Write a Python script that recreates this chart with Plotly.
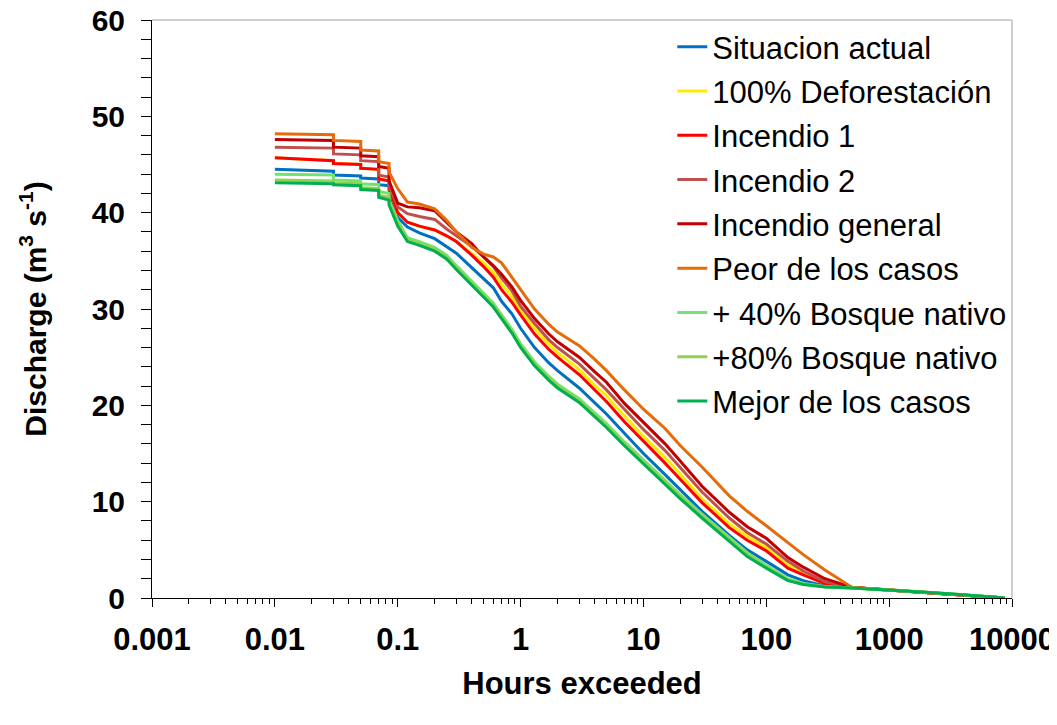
import plotly.graph_objects as go

# hours exceeded (duplicated values give the stair steps at the top of the curves)
hours = [0.01, 0.03, 0.03, 0.05, 0.05, 0.07, 0.07, 0.085, 0.085, 0.1,
         0.12, 0.15, 0.2, 0.25, 0.3, 0.4, 0.5, 0.6, 0.7, 0.85,
         1, 1.3, 1.7, 2, 3, 4, 5, 7, 10, 15,
         20, 30, 50, 70, 100, 150, 200, 300, 500, 1000,
         2000, 4000, 8760]

situacion_actual = [44.5, 44.3, 43.9, 43.8, 43.6, 43.5, 42.9, 42.8, 42.3, 39.5,
                    38.5, 37.9, 37.3, 36.5, 35.8, 34.3, 33.2, 32.2, 30.8, 29.5,
                    28.0, 26.0, 24.4, 23.6, 21.8, 20.3, 19.1, 17.1, 15.0, 12.8,
                    11.2, 9.0, 6.5, 5.0, 3.8, 2.4, 1.8, 1.25, 1.1, 0.85,
                    0.6, 0.35, 0.0]

deforestacion_100 = [45.7, 45.4, 45.1, 45.0, 44.6, 44.5, 43.5, 43.3, 42.6, 40.0,
                     39.0, 38.6, 38.2, 37.6, 37.0, 35.8, 34.8, 33.8, 32.6, 31.3,
                     29.9, 28.0, 26.3, 25.5, 23.7, 22.1, 21.0, 18.9, 16.8, 14.6,
                     12.8, 10.3, 7.7, 6.4, 5.2, 3.4, 2.6, 1.6, 1.1, 0.85,
                     0.6, 0.35, 0.0]

incendio_1 = [45.7, 45.4, 45.1, 45.0, 44.6, 44.5, 43.5, 43.3, 42.6, 40.0,
              39.0, 38.6, 38.2, 37.6, 37.0, 35.6, 34.4, 33.3, 32.0, 30.7,
              29.4, 27.4, 25.8, 25.0, 23.2, 21.6, 20.4, 18.3, 16.3, 14.0,
              12.3, 9.9, 7.3, 6.0, 4.9, 3.1, 2.4, 1.5, 1.1, 0.85,
              0.6, 0.35, 0.0]

incendio_2 = [46.8, 46.7, 46.1, 46.0, 45.4, 45.3, 43.9, 43.7, 42.8, 40.6,
              39.9, 39.6, 39.3, 38.3, 37.6, 36.5, 35.4, 34.4, 33.2, 31.9,
              30.3, 28.5, 26.8, 26.0, 24.3, 22.8, 21.6, 19.6, 17.5, 15.3,
              13.5, 11.0, 8.3, 6.8, 5.6, 3.8, 2.8, 1.7, 1.1, 0.85,
              0.6, 0.35, 0.0]

incendio_general = [47.6, 47.5, 46.8, 46.7, 45.9, 45.8, 44.8, 44.6, 43.3, 41.0,
                    40.6, 40.5, 40.2, 39.0, 38.0, 36.8, 35.4, 34.5, 33.6, 32.3,
                    30.9, 29.0, 27.4, 26.6, 25.0, 23.5, 22.4, 20.2, 18.2, 16.0,
                    14.2, 11.6, 8.9, 7.4, 6.2, 4.2, 3.2, 2.0, 1.1, 0.85,
                    0.6, 0.35, 0.0]

peor_casos = [48.2, 48.1, 47.5, 47.4, 46.5, 46.4, 45.3, 45.1, 44.2, 42.5,
              41.1, 40.9, 40.4, 39.2, 38.0, 36.4, 35.7, 35.4, 34.8, 33.3,
              32.0, 30.0, 28.4, 27.6, 26.2, 24.8, 23.6, 21.6, 19.6, 17.6,
              15.8, 13.6, 10.6, 9.0, 7.5, 5.7, 4.5, 2.9, 1.1, 0.85,
              0.6, 0.35, 0.0]

bosque_40 = [44.0, 43.9, 43.4, 43.3, 43.0, 42.9, 42.2, 42.0, 41.3, 39.2,
             37.4, 37.0, 36.4, 35.6, 34.5, 32.9, 31.7, 30.6, 29.4, 27.9,
             26.4, 24.5, 23.0, 22.2, 20.7, 19.2, 18.1, 16.2, 14.3, 12.2,
             10.7, 8.7, 6.3, 4.7, 3.4, 2.0, 1.5, 1.2, 1.05, 0.85,
             0.6, 0.35, 0.0]

bosque_80 = [43.4, 43.3, 43.1, 43.0, 42.6, 42.5, 41.8, 41.6, 41.0, 38.9,
             37.2, 36.8, 36.2, 35.4, 34.3, 32.7, 31.5, 30.4, 29.2, 27.7,
             26.2, 24.3, 22.8, 22.0, 20.5, 19.0, 17.9, 16.0, 14.1, 12.0,
             10.5, 8.5, 6.1, 4.5, 3.2, 1.9, 1.45, 1.15, 1.05, 0.85,
             0.6, 0.35, 0.0]

mejor_casos = [43.1, 43.0, 42.9, 42.8, 42.4, 42.3, 41.6, 41.3, 40.8, 38.6,
               37.0, 36.6, 36.0, 35.2, 34.1, 32.5, 31.3, 30.2, 29.0, 27.5,
               26.0, 24.1, 22.6, 21.8, 20.3, 18.8, 17.7, 15.8, 13.9, 11.8,
               10.3, 8.3, 5.9, 4.3, 3.1, 1.8, 1.4, 1.15, 1.05, 0.85,
               0.6, 0.35, 0.0]

series = [
    ("Situacion actual", situacion_actual, "#0070C0"),
    ("100% Deforestación", deforestacion_100, "#FFEB00"),
    ("Incendio 1", incendio_1, "#FF0000"),
    ("Incendio 2", incendio_2, "#C0504D"),
    ("Incendio general", incendio_general, "#C00000"),
    ("Peor de los casos", peor_casos, "#E46C0A"),
    ("+ 40% Bosque nativo", bosque_40, "#72E372"),
    ("+80% Bosque nativo", bosque_80, "#92D050"),
    ("Mejor de los casos", mejor_casos, "#00B050"),
]

x_ticks = [0.001, 0.01, 0.1, 1, 10, 100, 1000, 10000]
x_ticktext = ["0.001", "0.01", "0.1", "1", "10", "100", "1000", "10000"]

FONT = "Liberation Sans, Arial, sans-serif"

fig = go.Figure()
for name, vals, col in series:
    fig.add_trace(go.Scatter(
        x=hours, y=vals, name=name, mode="lines",
        line=dict(color=col, width=3),
        legendgroup=name,
    ))

# page body has an 8px margin, so the figure is shifted by 8px
fig.update_layout(
    width=1049, height=717,
    margin=dict(l=144, r=45, t=12, b=127),
    paper_bgcolor="white", plot_bgcolor="white",
    font=dict(family=FONT, color="black"),
    legend=dict(
        x=0.605, y=1.0, xanchor="left", yanchor="top",
        font=dict(size=31, family=FONT, color="black"),
        bgcolor="rgba(0,0,0,0)",
        tracegroupgap=1,
    ),
    showlegend=True,
)

fig.update_xaxes(
    type="log", range=[-3, 4], automargin=False,
    tickvals=x_ticks, ticktext=x_ticktext,
    ticks="outside", ticklen=8, tickcolor="black",
    minor=dict(ticks="outside", ticklen=5, tickcolor="black", dtick="D1", showgrid=False),
    showline=True, linecolor="black", linewidth=1,
    showgrid=False, zeroline=False,
    tickfont=dict(size=31, family=FONT, weight="bold"),
    ticklabelstandoff=6, ticklabeloverflow="allow",
    title=dict(text="<b>Hours exceeded</b>", font=dict(size=31, family=FONT), standoff=16),
)

fig.update_yaxes(
    range=[0, 60], dtick=10, automargin=False,
    ticks="outside", ticklen=10, tickcolor="black",
    minor=dict(ticks="outside", ticklen=10, tickcolor="black", dtick=2, showgrid=False),
    showline=True, linecolor="black", linewidth=1,
    showgrid=False, zeroline=False,
    tickfont=dict(size=30, family=FONT, weight="bold"),
    ticklabelstandoff=10, ticklabeloverflow="allow",
    title=dict(text="<b>Discharge (m<sup>3</sup> s<sup>-1</sup>)</b>", font=dict(size=30, family=FONT), standoff=36),
)

# light grey frame on top and right of the plot area
fig.add_shape(type="line", xref="paper", yref="paper", x0=0, x1=1, y0=1, y1=1,
              line=dict(color="#A0A0A0", width=1))
fig.add_shape(type="line", xref="paper", yref="paper", x0=1, x1=1, y0=0, y1=1,
              line=dict(color="#A0A0A0", width=1))

fig.write_html("out.html")
